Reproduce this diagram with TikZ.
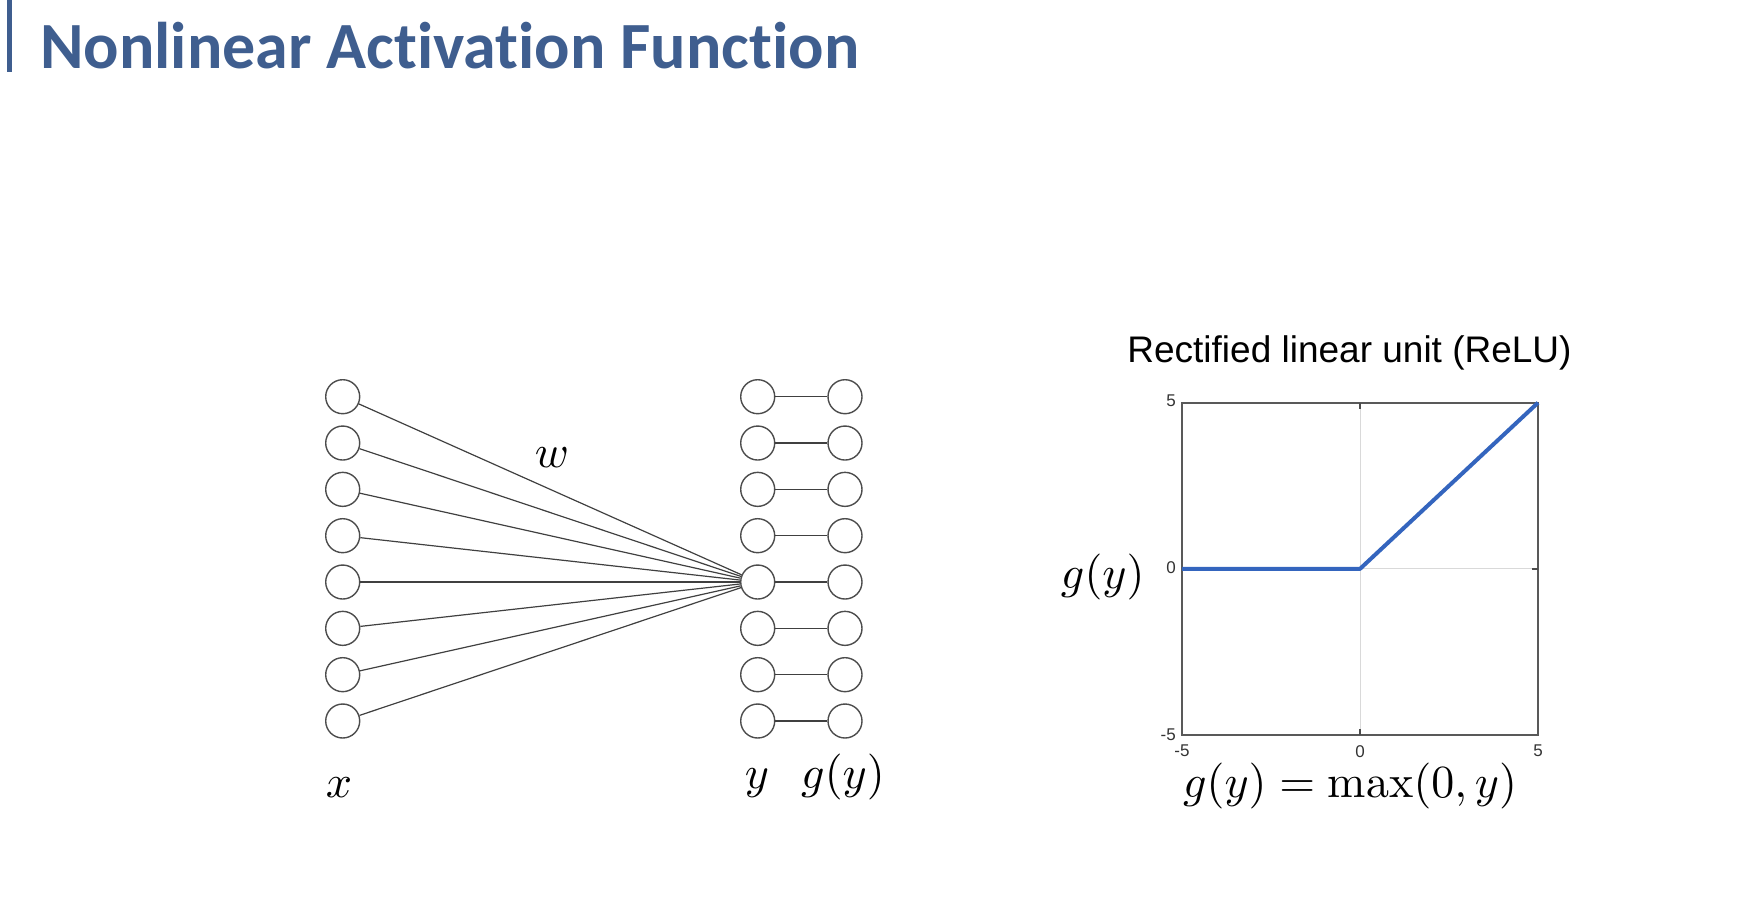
\documentclass[tikz,border=0pt]{standalone}
\usepackage{fontspec}
\newfontfamily\titlefont[Ligatures={NoCommon,NoContextual}]{Carlito}
\newfontfamily\plotfont{Liberation Sans}
\definecolor{titleblue}{RGB}{63,94,143}
\definecolor{relublue}{RGB}{52,101,190}
\begin{document}
\begin{tikzpicture}[x=1pt,y=-1pt,
  neuron/.style={circle,draw=black!70,line width=1.4pt,minimum size=34pt,inner sep=0pt},
  conn/.style={draw=black!75,line width=1.2pt},
  lbl/.style={inner sep=0pt,scale=4.6},
  ticklbl/.style={inner sep=0pt,font=\plotfont\fontsize{17}{20}\selectfont,text=black!80}]
\useasboundingbox (0,0) rectangle (1744,902);
% title
\fill[titleblue] (7,0) rectangle (11.5,72);
\node[anchor=base west,inner sep=0pt,text=titleblue,font=\titlefont\bfseries\fontsize{66}{79}\selectfont] (title) at (40,68.5) {Nonlinear Activation Function};
% network
\foreach \i in {1,...,8} {
  \node[neuron] (x\i) at (342.7,{396.7+(\i-1)*46.33}) {};
  \node[neuron] (y\i) at (757.7,{396.7+(\i-1)*46.33}) {};
  \node[neuron] (g\i) at (845,{396.7+(\i-1)*46.33}) {};
}
\foreach \i in {1,...,8} {
  \draw[conn] (x\i) -- (y5);
  \draw[conn] (y\i) -- (g\i);
}
\node[lbl,anchor=base] (lw) at (552,467) {$w$};
\node[lbl,anchor=base] (lx) at (339,797) {$x$};
\node[lbl,anchor=base] (ly) at (757,788) {$y$};
\node[lbl,anchor=base] (lg) at (843,788) {$g(y)$};
% plot
\draw[black!15,line width=1pt] (1360,402.7) -- (1360,735) (1182,568.85) -- (1538,568.85);
\draw[black!65,line width=2pt] (1182,402.7) rectangle (1538,735);
\draw[black!70,line width=1.5pt] (1360,402.7) -- (1360,409) (1538,568.85) -- (1531.5,568.85)
  (1360,735) -- (1360,728.5) (1182,568.85) -- (1188.5,568.85);
\draw[relublue,line width=4pt,line join=round] (1182,568.85) -- (1360,568.85) -- (1538,402.7);
\node[ticklbl,anchor=east] (t5) at (1176,401) {5};
\node[ticklbl,anchor=east] (t0) at (1176,568) {0};
\node[ticklbl,anchor=east] (tm5) at (1176,735) {-5};
\node[ticklbl,anchor=north] (b5) at (1182,745) {-5};
\node[ticklbl,anchor=north] (b0) at (1360,745) {0};
\node[ticklbl,anchor=north] (bm5) at (1538,745) {5};
\node[anchor=base,inner sep=0pt,font=\plotfont\fontsize{37}{44}\selectfont] (ptitle) at (1349.5,362.6) {Rectified linear unit (ReLU)};
\node[lbl,anchor=base west] (gy) at (1060,588) {$g(y)$};
\node[lbl,anchor=base] (formula) at (1350,797) {$g(y) = \max(0,y)$};
\end{tikzpicture}
\end{document}
